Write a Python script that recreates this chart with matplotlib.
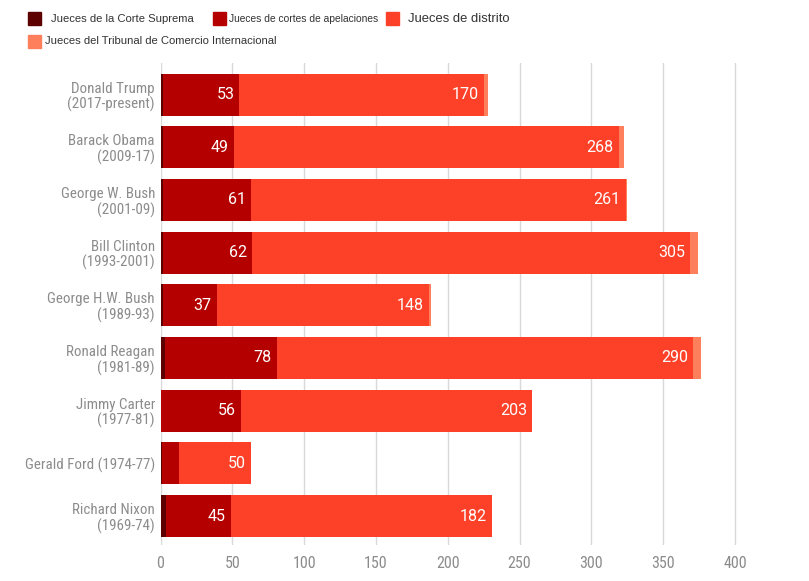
import matplotlib.pyplot as plt
from matplotlib.patches import Rectangle
import numpy as np

# datos
presidentes = ['Donald Trump\n(2017-present)', 'Barack Obama\n(2009-17)', 'George W. Bush\n(2001-09)',
               'Bill Clinton\n(1993-2001)', 'George H.W. Bush\n(1989-93)', 'Ronald Reagan\n(1981-89)',
               'Jimmy Carter\n(1977-81)', 'Gerald Ford (1974-77)', 'Richard Nixon\n(1969-74)']
corte_suprema = [2, 2, 2, 2, 2, 3, 0, 1, 4]
apelaciones = [53, 49, 61, 62, 37, 78, 56, 12, 45]
distrito = [170, 268, 261, 305, 148, 290, 203, 50, 182]
comercio = [3, 4, 1, 5, 1, 5, 0, 0, 0]
series_nombres = ['Jueces de la Corte Suprema', 'Jueces de cortes de apelaciones',
                  'Jueces de distrito', 'Jueces del Tribunal de Comercio Internacional']
colores = ['#5c0000', '#b50000', '#fd4129', '#fd7f5c']
ticks_x = [0, 50, 100, 150, 200, 250, 300, 350, 400]

fuente_ejes = ['Roboto Condensed', 'Archivo Narrow', 'Liberation Sans', 'DejaVu Sans']

fig = plt.figure(figsize=(8.09, 5.81), dpi=100)
ax = fig.add_axes([0.1984, 0.062, 0.7456, 0.8296])

y = np.arange(len(presidentes))
series = [corte_suprema, apelaciones, distrito, comercio]
izq = np.zeros(len(presidentes))
for vals, col in zip(series, colores):
    ax.barh(y, vals, left=izq, height=0.8, color=col, zorder=3)
    izq = izq + np.array(vals)

# etiquetas dentro de las barras
for i in range(len(presidentes)):
    fin_apel = corte_suprema[i] + apelaciones[i]
    fin_dist = fin_apel + distrito[i]
    if apelaciones[i] > 20:
        ax.text(fin_apel - 3.5, y[i], str(apelaciones[i]), color='white', ha='right', va='center',
                fontsize=11.5, family=['Roboto', 'DejaVu Sans'], zorder=4)
    ax.text(fin_dist - 3.5, y[i], str(distrito[i]), color='white', ha='right', va='center',
            fontsize=11.5, family=['Roboto', 'DejaVu Sans'], zorder=4)

ax.set_xlim(0, 420)
ax.set_ylim(8.55, -0.6)
ax.set_xticks(ticks_x)
ax.set_yticks(y)
ax.set_yticklabels(presidentes, family=fuente_ejes, fontsize=10.8,
                   color='#8c8c8c', linespacing=1.1)
for lab in ax.get_xticklabels():
    lab.set_family(fuente_ejes)
    lab.set_fontsize(11.5)
    lab.set_color('#8c8c8c')
ax.tick_params(axis='both', length=0)
ax.tick_params(axis='y', pad=4)
ax.tick_params(axis='x', pad=8)
ax.grid(axis='x', color='#d9d9d9', linewidth=1, zorder=0)
for s in ax.spines.values():
    s.set_visible(False)

# leyenda manual
W, H = 809, 581
pos_leyenda = [(28, 12, 51, 8.1), (213, 12, 229, 7.4), (386, 12, 408, 9.4), (28, 35, 45, 8.1)]
for (sx, sy, tx, fs), nombre, col in zip(pos_leyenda, series_nombres, colores):
    fig.add_artist(Rectangle((sx / W, 1 - (sy + 13) / H), 13 / W, 13 / H, color=col,
                             transform=fig.transFigure))
    fig.text(tx / W, 1 - (sy + 6.5) / H, nombre, ha='left', va='center', fontsize=fs,
             color='#333333', family=['Liberation Sans', 'DejaVu Sans'])

fig.savefig('out.png', dpi=100)
